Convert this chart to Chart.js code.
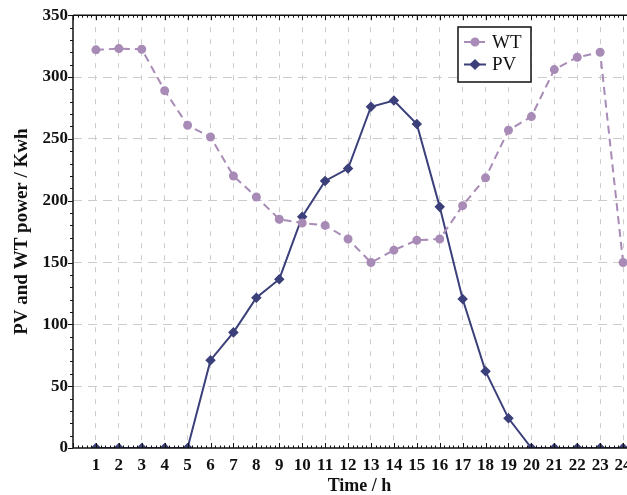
<!DOCTYPE html>
<html>
<head>
<meta charset="utf-8">
<script src="https://cdn.jsdelivr.net/npm/chart.js@4"></script>
<style>
  html, body { margin: 0; padding: 0; background: #fff; overflow: hidden; }
  #wrap { width: 627px; height: 495px; overflow: hidden; }
</style>
</head>
<body>
<div id="wrap"><canvas id="myChart" width="660" height="495"></canvas></div>
<script>
//--------------------- Data

// hours of the day
var hours = [1, 2, 3, 4, 5, 6, 7, 8, 9, 10, 11, 12, 13, 14, 15, 16, 17, 18, 19, 20, 21, 22, 23, 24]

// wind turbine output per hour
var wtPower = [322, 323, 322.5, 289, 261, 251.5, 220, 203, 185, 182, 180, 169, 150, 160, 168, 169, 196, 218.5, 257, 268, 306, 316, 320, 150]

// photovoltaic output per hour
var pvPower = [0, 0, 0, 0, 0, 71, 93.5, 121.5, 136.5, 187, 216, 226, 276, 281, 262, 195, 120.5, 62, 24, 0, 0, 0, 0, 0]

var yTicks = [0, 50, 100, 150, 200, 250, 300, 350]

var wtColor = "rgb(168,139,182)"
var pvColor = "rgb(60,64,122)"
var serif = "'Liberation Serif', 'DejaVu Serif', serif"

//-------------------- Helpers

function toPoints(values) {
    var points = []
    for (var i = 0; i < hours.length; i++)
    {
        points.push({x: hours[i], y: values[i]})
    }
    return points
}

// hide grid lines sitting on the frame
function xGridColor(ctx) {
    var v = ctx.tick ? ctx.tick.value : 0
    if (v <= 0 || v >= 25) return "rgba(0,0,0,0)"
    return "#cccccc"
}

function yGridColor(ctx) {
    var v = ctx.tick ? ctx.tick.value : 0
    if (v <= 0 || v >= 350) return "rgba(0,0,0,0)"
    return "#cccccc"
}

// frame and the small tick marks around the plot
var framePlugin = {
    id: "frame",
    afterDraw: function (chart) {
        var ctx = chart.ctx
        var a = chart.chartArea
        var xs = chart.scales.x
        var ys = chart.scales.y
        ctx.save()
        ctx.strokeStyle = "#111"
        ctx.lineWidth = 1.5
        ctx.beginPath()
        ctx.moveTo(a.left, a.top)
        ctx.lineTo(a.right, a.top)
        ctx.moveTo(a.left, a.top)
        ctx.lineTo(a.left, a.bottom)
        ctx.lineTo(a.right, a.bottom)
        ctx.stroke()

        // x ticks, inward on top and bottom
        ctx.lineWidth = 1
        ctx.beginPath()
        for (var k = 0; k <= 125; k++)
        {
            var px = Math.round(xs.getPixelForValue(k / 5)) + 0.5
            var len = (k % 5 === 0) ? 5 : 2.5
            ctx.moveTo(px, a.bottom)
            ctx.lineTo(px, a.bottom - len)
            ctx.moveTo(px, a.top)
            ctx.lineTo(px, a.top + len)
        }
        // y ticks, outward on the left
        for (var v = 0; v <= 350; v += 10)
        {
            var py = Math.round(ys.getPixelForValue(v)) + 0.5
            var l2 = (v % 50 === 0) ? 5 : 3
            ctx.moveTo(a.left, py)
            ctx.lineTo(a.left - l2, py)
        }
        ctx.stroke()
        ctx.restore()
    }
}

// boxed legend with line + marker samples
var legendPlugin = {
    id: "boxLegend",
    afterDraw: function (chart) {
        var ctx = chart.ctx
        var bx = 458, by = 27, bw = 73, bh = 55
        ctx.save()
        ctx.fillStyle = "#fff"
        ctx.fillRect(bx, by, bw, bh)
        ctx.strokeStyle = "#111"
        ctx.lineWidth = 1.5
        ctx.strokeRect(bx, by, bw, bh)
        ctx.font = "19px " + serif
        ctx.textBaseline = "middle"
        var sets = chart.data.datasets
        for (var i = 0; i < sets.length; i++)
        {
            var ds = sets[i]
            var y = by + 15 + i * 22.5
            ctx.strokeStyle = ds.borderColor
            ctx.lineWidth = 2
            ctx.setLineDash(ds.borderDash || [])
            ctx.beginPath()
            ctx.moveTo(bx + 6, y)
            ctx.lineTo(bx + 28, y)
            ctx.stroke()
            ctx.setLineDash([])
            ctx.fillStyle = ds.pointBackgroundColor
            Chart.helpers.drawPoint(ctx, {pointStyle: ds.pointStyle, radius: ds.pointRadius, rotation: 0, borderWidth: 1}, bx + 17, y)
            ctx.fillStyle = "#111"
            ctx.fillText(ds.label, bx + 34, y + 1)
        }
        ctx.restore()
    }
}

//-------------------- Chart

const ctx = document.getElementById("myChart")
const myChart = new Chart(ctx, {
    type: "line",
    data: {
        datasets: [
            {
                label: "WT",
                data: toPoints(wtPower),
                borderColor: wtColor,
                backgroundColor: wtColor,
                pointBackgroundColor: wtColor,
                pointBorderColor: wtColor,
                borderWidth: 2,
                borderDash: [8, 5],
                pointStyle: "circle",
                pointRadius: 3.5,
                tension: 0
            },
            {
                label: "PV",
                data: toPoints(pvPower),
                borderColor: pvColor,
                backgroundColor: pvColor,
                pointBackgroundColor: pvColor,
                pointBorderColor: pvColor,
                borderWidth: 2,
                pointStyle: "rectRot",
                pointRadius: 4.2,
                pointBorderWidth: 1.5,
                tension: 0
            }
        ]
    },
    options: {
        responsive: false,
        animation: false,
        devicePixelRatio: 1,
        layout: { padding: { top: 15, right: 14, left: 0, bottom: 0 } },
        scales: {
            x: {
                type: "linear",
                min: 0,
                max: 25,
                afterFit: function (scale) { scale.height = 47 },
                ticks: {
                    stepSize: 1,
                    autoSkip: false,
                    maxRotation: 0,
                    minRotation: 0,
                    padding: 7,
                    color: "#111",
                    font: { family: serif, size: 17, weight: "bold" },
                    callback: function (value) {
                        return (value >= 1 && value <= 24) ? String(value) : ""
                    }
                },
                grid: { color: xGridColor, drawTicks: false, lineWidth: 1 },
                border: { display: false, dash: [5, 7] },
                title: {
                    display: true,
                    text: "Time / h",
                    color: "#111",
                    font: { family: serif, size: 18, weight: "bold", lineHeight: 1 },
                    padding: { top: 0, bottom: 0 }
                }
            },
            y: {
                min: 0,
                max: 350,
                afterFit: function (scale) { scale.width = 73 },
                afterBuildTicks: function (scale) {
                    scale.ticks = yTicks.map(function (v) { return {value: v} })
                },
                ticks: {
                    padding: 5,
                    color: "#111",
                    font: { family: serif, size: 17, weight: "bold" }
                },
                grid: { color: yGridColor, drawTicks: false, lineWidth: 1 },
                border: { display: false, dash: [9, 6] },
                title: {
                    display: true,
                    text: "PV and WT power / Kwh",
                    color: "#111",
                    font: { family: serif, size: 19, weight: "bold" },
                    padding: { top: 11, bottom: 0 }
                }
            }
        },
        plugins: {
            legend: { display: false },
            tooltip: { enabled: false }
        }
    },
    plugins: [framePlugin, legendPlugin]
})
</script>
</body>
</html>
